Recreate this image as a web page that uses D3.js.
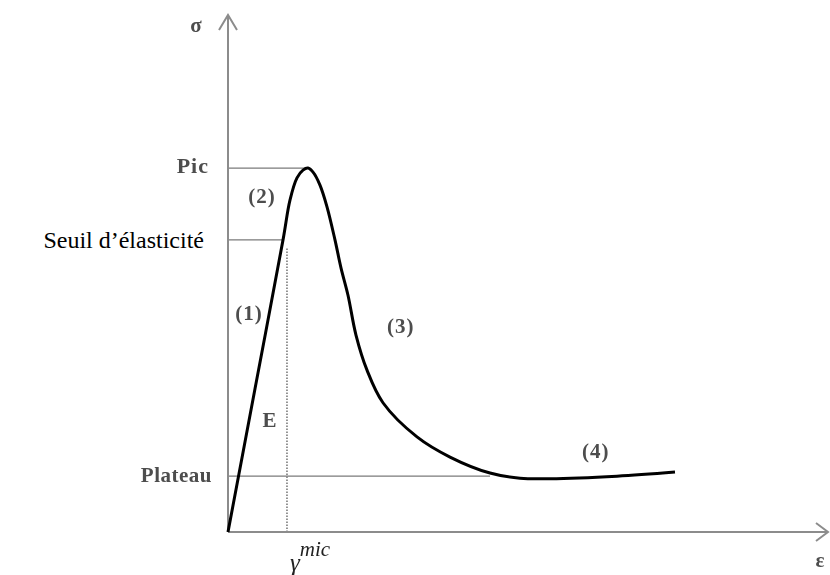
<!DOCTYPE html>
<html>
<head>
<meta charset="utf-8">
<script src="https://cdn.jsdelivr.net/npm/d3@7"></script>
<style>
	body { margin: 0; background: #fff; }
	.lbl { font-family: "Liberation Serif", "Times New Roman", serif; }
</style>
</head>
<body>
<div id="view"></div>
<script>

// courbe contrainte / deformation (unites arbitraires 0..100)
var strain= [0, 4.5, 9.17, 10.33, 11.5, 12.5, 13.33, 14.17, 15.33, 16.5, 17.83, 18.83, 20.0, 21.33, 23.17, 25.83, 31.5, 37.0, 43.67, 48.67, 53.67, 64.83, 74.5];
var stress= [0, 27.7, 56.5, 64.2, 68.5, 70.0, 70.4, 69.6, 67.1, 62.9, 56.5, 51.1, 45.8, 38.1, 31.3, 25.0, 18.4, 14.5, 11.4, 10.4, 10.3, 10.8, 11.6];

// niveaux reperes sur l'axe sigma
var level_names= ["Pic", "Seuil d\u2019élasticité", "Plateau"];
var level_values= [70.4, 56.5, 10.8];
var level_ends= [13.33, 9.17, 43.67];

var gamma_mic= 9.83;

// zones de la courbe
var zone_names= ["(1)", "(2)", "(3)", "(4)", "E"];
var zone_x= [3.5, 5.67, 28.8, 61.3, 7.0];
var zone_y= [41.0, 63.6, 38.5, 14.3, 20.3];


var width= 830;
var height= 575;

var svg= d3.select("#view")
		.append("svg")
		.attr("width", width)
		.attr("height", height);

var defs= svg.append("defs");
defs.append("filter")
	.attr("id", "soft")
	.append("feGaussianBlur")
		.attr("stdDeviation", 0.5);

var x= d3.scaleLinear().domain([0, 100]).range([228, 828]);
var y= d3.scaleLinear().domain([0, 100]).range([532, 15]);

var axis_col= "#8c8c8c";
var guide_col= "#7a7a7a";
var grey_txt= "#4d4d4d";

// lignes reperes horizontales
for ((i= 0); (i< level_values.length); (i++)) {
	svg.append("line")
		.attr("x1", x(0))
		.attr("x2", x(level_ends[i]))
		.attr("y1", y(level_values[i]))
		.attr("y2", y(level_values[i]))
		.attr("stroke", guide_col)
		.attr("stroke-width", 1.3);
}

// pointillés gamma mic
svg.append("line")
	.attr("x1", x(gamma_mic))
	.attr("x2", x(gamma_mic))
	.attr("y1", y(0))
	.attr("y2", y(level_values[1]) + 8)
	.attr("stroke", guide_col)
	.attr("stroke-width", 1.6)
	.attr("stroke-dasharray", "1.5,1.5");

// axes
svg.append("line")
	.attr("x1", x(0)).attr("x2", x(0))
	.attr("y1", y(0)).attr("y2", y(100))
	.attr("stroke", axis_col).attr("stroke-width", 2);
svg.append("polyline")
	.attr("points", [[x(0)- 9, y(100)+ 15], [x(0), y(100)], [x(0)+ 9, y(100)+ 15]].join(" "))
	.attr("fill", "none").attr("stroke", axis_col).attr("stroke-width", 2);

svg.append("line")
	.attr("x1", x(0)).attr("x2", x(100))
	.attr("y1", y(0)).attr("y2", y(0))
	.attr("stroke", axis_col).attr("stroke-width", 2);
svg.append("polyline")
	.attr("points", [[x(100)- 12, y(0)- 9], [x(100), y(0)], [x(100)- 12, y(0)+ 9]].join(" "))
	.attr("fill", "none").attr("stroke", axis_col).attr("stroke-width", 2);

// courbe
var pts= strain.map(function(d, i) { return [d, stress[i]]; });
var line= d3.line()
	.x(function(d) { return x(d[0]); })
	.y(function(d) { return y(d[1]); })
	.curve(d3.curveCatmullRom.alpha(0.5));

svg.append("path")
	.attr("d", line(pts))
	.attr("fill", "none")
	.attr("stroke", "#000")
	.attr("stroke-width", 3)
	.attr("stroke-linejoin", "round");

// etiquettes des niveaux
svg.append("text")
	.attr("class", "lbl")
	.attr("x", x(0)- 19).attr("y", y(level_values[0])+ 5)
	.attr("text-anchor", "end")
	.attr("font-size", 22).attr("font-weight", "bold").attr("letter-spacing", 1)
	.attr("fill", grey_txt).attr("filter", "url(#soft)")
	.text(level_names[0]);

svg.append("text")
	.attr("class", "lbl")
	.attr("x", x(0)- 24).attr("y", y(level_values[1])+ 8)
	.attr("text-anchor", "end")
	.attr("font-size", 24)
	.attr("fill", "#000")
	.text(level_names[1]);

svg.append("text")
	.attr("class", "lbl")
	.attr("x", x(0)- 16).attr("y", y(level_values[2])+ 6)
	.attr("text-anchor", "end")
	.attr("font-size", 21).attr("font-weight", "bold").attr("letter-spacing", 0.5)
	.attr("fill", grey_txt).attr("filter", "url(#soft)")
	.text(level_names[2]);

// zones
for ((i= 0); (i< zone_names.length); (i++)) {
	svg.append("text")
		.attr("class", "lbl")
		.attr("x", x(zone_x[i]))
		.attr("y", y(zone_y[i]))
		.attr("text-anchor", "middle")
		.attr("font-size", 21).attr("font-weight", "bold").attr("letter-spacing", 1)
		.attr("fill", grey_txt).attr("filter", "url(#soft)")
		.text(zone_names[i]);
}

// noms des axes
svg.append("text")
	.attr("class", "lbl")
	.attr("x", x(0)- 32).attr("y", 32)
	.attr("text-anchor", "middle")
	.attr("font-size", 21).attr("font-weight", "bold")
	.attr("fill", grey_txt).attr("filter", "url(#soft)")
	.text("σ");

svg.append("text")
	.attr("class", "lbl")
	.attr("x", x(100)- 8).attr("y", y(0)+ 35)
	.attr("text-anchor", "middle")
	.attr("font-size", 21).attr("font-weight", "bold")
	.attr("fill", grey_txt).attr("filter", "url(#soft)")
	.text("ε");

var gt= svg.append("text")
	.attr("class", "lbl")
	.attr("x", x(gamma_mic)+ 3).attr("y", y(0)+ 39)
	.attr("font-size", 25).attr("font-style", "italic")
	.attr("fill", "#222").attr("filter", "url(#soft)");
gt.append("tspan").text("γ");
gt.append("tspan").attr("dy", -15).attr("font-size", 21).text("mic");

</script>
</body>
</html>
